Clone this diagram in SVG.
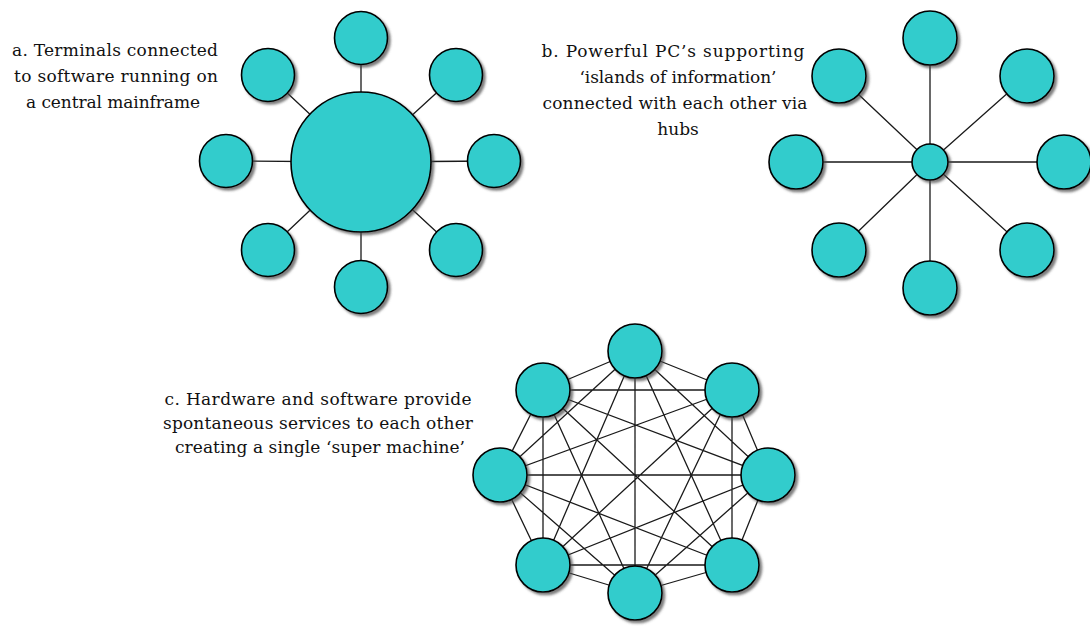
<svg xmlns="http://www.w3.org/2000/svg" width="1090" height="627" viewBox="0 0 1090 627">
<defs>
<filter id="sh" x="-30%" y="-30%" width="170%" height="170%">
<feDropShadow dx="2.5" dy="2.5" stdDeviation="1.2" flood-color="#444" flood-opacity="0.7"/>
</filter>
<style>
.n{fill:#33CCCC;stroke:#000;stroke-width:1.6;filter:url(#sh)}
.e{stroke:#1a1a1a;stroke-width:1.3;fill:none}
.t{font-family:"DejaVu Serif","Liberation Serif",serif;font-size:17px;fill:#111;text-anchor:middle}
</style>
</defs>
<rect width="1090" height="627" fill="#fff"/>

<g id="labels">
<text class="t" x="115" y="56" textLength="206">a. Terminals connected</text>
<text class="t" x="116" y="82" textLength="204">to software running on</text>
<text class="t" x="113" y="108" textLength="174">a central mainframe</text>
<text class="t" x="673" y="57" textLength="263">b. Powerful PC’s supporting</text>
<text class="t" x="678" y="83" textLength="197">‘islands of information’</text>
<text class="t" x="675" y="109" textLength="265">connected with each other via</text>
<text class="t" x="678" y="135">hubs</text>
<text class="t" x="318" y="405" textLength="307">c. Hardware and software provide</text>
<text class="t" x="318" y="429" textLength="310">spontaneous services to each other</text>
<text class="t" x="320" y="453" textLength="290">creating a single ‘super machine’</text>
</g>

<g id="connectors">
<path class="e" d="M361,162L361,38M361,162L361,287M361,162L226,161M361,162L494,161M361,162L268,75M361,162L456,75M361,162L268,250M361,162L456,250"/>
<path class="e" d="M930,162L930,38M930,162L930,288M930,162L796,162M930,162L1064,162M930,162L839,76M930,162L1027,76M930,162L839,250M930,162L1027,250"/>
<path class="e" d="M635,351L732,390M635,351L768,475M635,351L732,565M635,351L635,593M635,351L543,565M635,351L500,475M635,351L543,390M732,390L768,475M732,390L732,565M732,390L635,593M732,390L543,565M732,390L500,475M732,390L543,390M768,475L732,565M768,475L635,593M768,475L543,565M768,475L500,475M768,475L543,390M732,565L635,593M732,565L543,565M732,565L500,475M732,565L543,390M635,593L543,565M635,593L500,475M635,593L543,390M543,565L500,475M543,565L543,390M500,475L543,390"/>
</g>

<g id="diagram-a">
<g id="a-mainframe"><circle class="n" cx="361" cy="162" r="70"/></g>
<g id="a-t1"><circle class="n" cx="361" cy="38" r="26.5"/></g>
<g id="a-t2"><circle class="n" cx="456" cy="75" r="26.5"/></g>
<g id="a-t3"><circle class="n" cx="494" cy="161" r="26.5"/></g>
<g id="a-t4"><circle class="n" cx="456" cy="250" r="26.5"/></g>
<g id="a-t5"><circle class="n" cx="361" cy="287" r="26.5"/></g>
<g id="a-t6"><circle class="n" cx="268" cy="250" r="26.5"/></g>
<g id="a-t7"><circle class="n" cx="226" cy="161" r="26.5"/></g>
<g id="a-t8"><circle class="n" cx="268" cy="75" r="26.5"/></g>
</g>

<g id="diagram-b">
<g id="b-hub"><circle class="n" cx="930" cy="162" r="18"/></g>
<g id="b-p1"><circle class="n" cx="930" cy="38" r="27"/></g>
<g id="b-p2"><circle class="n" cx="1027" cy="76" r="27"/></g>
<g id="b-p3"><circle class="n" cx="1064" cy="162" r="27"/></g>
<g id="b-p4"><circle class="n" cx="1027" cy="250" r="27"/></g>
<g id="b-p5"><circle class="n" cx="930" cy="288" r="27"/></g>
<g id="b-p6"><circle class="n" cx="839" cy="250" r="27"/></g>
<g id="b-p7"><circle class="n" cx="796" cy="162" r="27"/></g>
<g id="b-p8"><circle class="n" cx="839" cy="76" r="27"/></g>
</g>

<g id="diagram-c">
<g id="c-n1"><circle class="n" cx="635" cy="351" r="27"/></g>
<g id="c-n2"><circle class="n" cx="732" cy="390" r="27"/></g>
<g id="c-n3"><circle class="n" cx="768" cy="475" r="27"/></g>
<g id="c-n4"><circle class="n" cx="732" cy="565" r="27"/></g>
<g id="c-n5"><circle class="n" cx="635" cy="593" r="27"/></g>
<g id="c-n6"><circle class="n" cx="543" cy="565" r="27"/></g>
<g id="c-n7"><circle class="n" cx="500" cy="475" r="27"/></g>
<g id="c-n8"><circle class="n" cx="543" cy="390" r="27"/></g>
</g>
</svg>
